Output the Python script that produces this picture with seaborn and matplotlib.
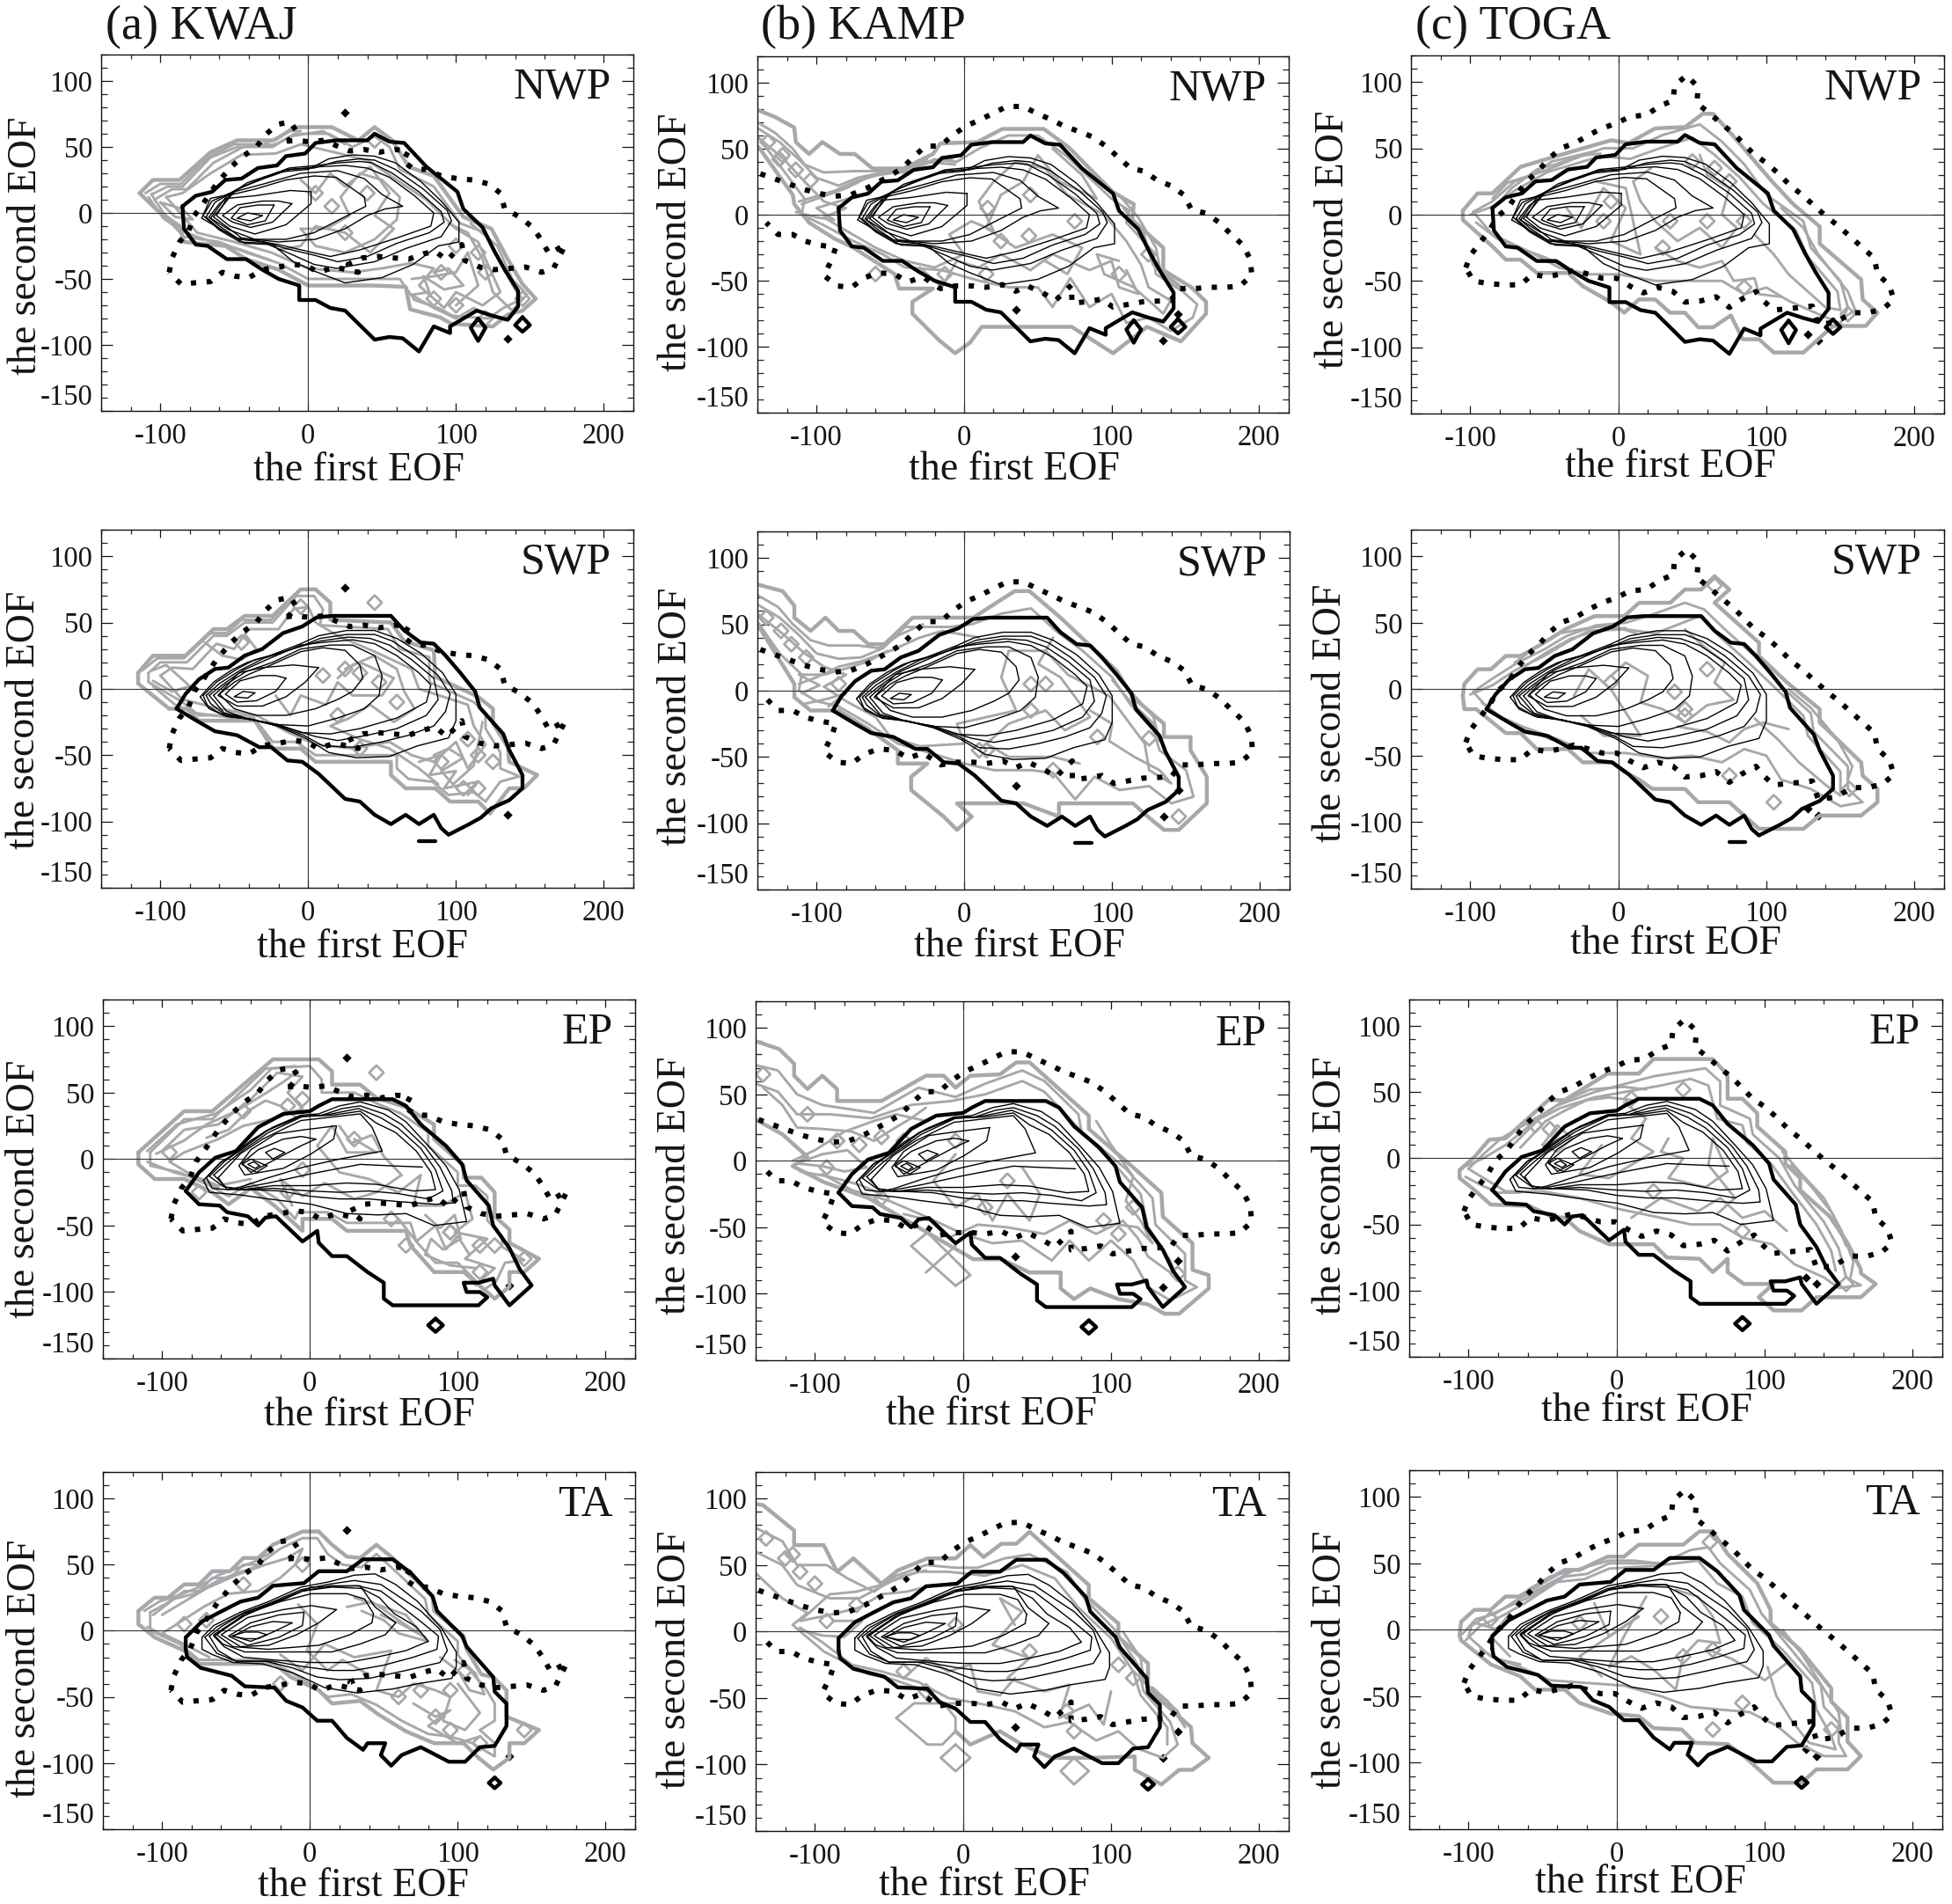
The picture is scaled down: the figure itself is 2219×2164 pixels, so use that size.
import matplotlib
matplotlib.use("Agg")
import matplotlib.pyplot as plt
from matplotlib.ticker import MultipleLocator
import seaborn as sns

# ---- text and ticks ----
STATIONS = ["KWAJ", "KAMP", "TOGA"]
TITLES = ["(a) KWAJ", "(b) KAMP", "(c) TOGA"]
REGIONS = ["NWP", "SWP", "EP", "TA"]
X_TICKS = [-100, 0, 100, 200]
Y_TICKS = [-150, -100, -50, 0, 50, 100]

# ---- dotted outline, one per station ----
DOTTED_KWAJ = [(-94,-45),(-92,-34),(-87,-22),(-81,-14),(-77,-2),(-71,7),(-62,22),(-52,35),(-44,43),(-35,50),(-29,59),
    (-21,67),(-12,69),(-8,62),(-13,55),(-18,54),(-8,55),(0,54),(11,55),(19,51),(28,47),(38,48),(48,46),(59,48),(68,47),
    (64,39),(72,33),(80,33),(90,28),(101,26),(111,25),(122,22),(130,15),(133,3),(143,-3),(152,-11),(158,-21),(163,-31),
    (174,-24),(166,-42),(158,-45),(147,-41),(137,-42),(126,-43),(116,-41),(106,-36),(104,-24),(94,-36),(86,-29),(78,-31),
    (68,-35),(57,-34),(47,-33),(37,-34),(27,-39),(34,-45),(18,-41),(7,-45),(-1,-40),(-10,-39),(-20,-41),(-31,-43),(-40,-49),
    (-49,-48),(-58,-45),(-66,-52),(-77,-53),(-86,-54),(-94,-45)]
DOTTED_KAMP = [(-138,31),(-128,27),(-118,23),(-108,19),(-98,16),(-88,14),(-77,15),(-66,20),(-51,29),(-42,35),(-34,44),
    (-26,52),(-16,52),(-8,60),(1,67),(11,72),(20,77),(29,82),(40,82),(49,77),(59,72),(68,67),(78,63),(87,59),(96,52),(104,44),
    (113,35),(122,33),(131,26),(140,22),(149,15),(154,4),(164,1),(173,-6),(181,-15),(189,-23),(194,-34),(195,-46),(187,-54),
    (178,-55),(167,-55),(156,-56),(146,-56),(140,-65),(121,-66),(111,-68),(101,-70),(93,-64),(83,-66),(73,-67),(73,-53),
    (62,-65),(53,-59),(43,-54),(35,-58),(26,-53),(15,-55),(6,-54),(-6,-54),(-16,-56),(-28,-47),(-38,-51),(-47,-45),(-58,-44),
    (-68,-48),(-76,-55),(-86,-54),(-95,-46),(-90,-35),(-87,-25),(-98,-23),(-108,-20),(-116,-15),(-126,-15),(-134,-6)]
DOTTED_TOGA = [(-103,-40),(-100,-31),(-94,-22),(-87,-12),(-82,-2),(-74,6),(-68,16),(-62,25),(-54,33),(-47,42),(-39,50),
    (-29,54),(-20,60),(-11,65),(-1,69),(8,74),(19,75),(28,82),(37,86),(38,97),(46,105),(54,96),(53,84),(62,76),(69,69),(78,61),
    (85,53),(92,45),(100,39),(108,31),(116,22),(124,15),(132,7),(140,-1),(149,-9),(157,-17),(165,-25),(173,-33),(175,-45),
    (183,-53),(186,-64),(179,-71),(169,-74),(158,-74),(147,-81),(135,-83),(131,-69),(123,-70),(105,-72),(97,-64),(93,-58),
    (83,-64),(75,-70),(66,-62),(56,-65),(45,-66),(37,-58),(27,-55),(17,-59),(8,-54),(-1,-48),(-11,-48),(-20,-45),(-30,-42),
    (-40,-45),(-48,-47),(-58,-45),(-66,-53),(-77,-53),(-88,-52),(-98,-50),(-103,-40)]
DOTS_KWAJ = [(25,76),(135,-95)]
DOTS_KAMP = [(35,-72),(135,-95),(145,-75)]
DOTS_TOGA = [(135,-95),(128,-90)]

# ---- thick black outline, one per region ----
THICK_NWP = [(-85,5),(-76,13),(-65,16),(-56,25),(-45,26),(-34,34),(-21,36),(-15,43),(-2,45),(5,53),(19,55),(40,55),(45,60),
    (55,54),(65,53),(80,35),(101,16),(105,3),(118,-11),(126,-29),(133,-43),(142,-59),(142,-71),(135,-81),(125,-78),(114,-74),
    (105,-80),(96,-86),(96,-91),(85,-86),(75,-105),(64,-95),(55,-94),(45,-96),(35,-85),(25,-74),(15,-72),(5,-66),(-6,-66),(-6,-55),
    (-20,-50),(-31,-43),(-42,-35),(-55,-35),(-68,-25),(-76,-24),(-84,-12),(-85,5)]
THICK_SWP = [(-89,-15),(-83,-4),(-74,7),(-63,15),(-54,16),(-43,25),(-31,30),(-17,42),(-4,47),(6,54),(17,55),(36,55),(56,55),
    (65,44),(76,35),(85,34),(93,25),(103,12),(113,-2),(116,-14),(132,-34),(136,-46),(145,-65),(145,-75),(136,-84),(124,-90),
    (117,-97),(109,-102),(95,-110),(90,-105),(85,-95),(75,-102),(66,-95),(56,-102),(45,-95),(35,-85),(25,-83),(7,-64),(-4,-55),
    (-14,-54),(-25,-44),(-33,-44),(-48,-35),(-63,-32),(-74,-25),(-89,-15)]
THICK_EP = [(-84,-24),(-75,-10),(-64,1),(-50,6),(-35,24),(-18,34),(0,36),(6,40),(15,45),(34,45),(56,45),(65,40),(75,26),(92,10),
    (103,-4),(106,-16),(121,-35),(124,-50),(135,-67),(142,-83),(150,-95),(135,-110),(125,-95),(124,-90),(114,-93),(104,-93),
    (106,-100),(115,-100),(120,-104),(114,-110),(56,-110),(50,-105),(50,-93),(39,-85),(25,-73),(15,-73),(6,-63),(5,-54),(-5,-62),
    (-23,-43),(-30,-44),(-35,-50),(-42,-43),(-56,-40),(-61,-35),(-75,-34),(-84,-24)]
THICK_TA = [(-84,-14),(-84,-5),(-73,7),(-61,14),(-47,22),(-35,25),(-25,34),(-4,36),(6,45),(25,45),(36,54),(56,54),(68,44),(83,26),
    (86,15),(103,-4),(106,-12),(124,-35),(125,-46),(133,-55),(133,-72),(125,-87),(115,-88),(105,-99),(94,-99),(75,-88),(62,-94),
    (55,-102),(48,-94),(51,-85),(39,-85),(36,-90),(25,-81),(15,-68),(5,-68),(-5,-58),(-16,-53),(-24,-43),(-44,-42),(-53,-34),
    (-74,-28),(-83,-20),(-84,-14)]
# little thick pieces outside the outline
EXTRA_NWP = [[(115,-80),(120,-87),(115,-97),(110,-87),(115,-80)], [(145,-79),(150,-85),(145,-90),(140,-85),(145,-79)]]
EXTRA_SWP = [[(75,-115),(86,-115)]]
EXTRA_EP = [[(85,-120),(90,-125),(85,-130),(80,-125),(85,-120)]]
EXTRA_TA = [[(125,-111),(129,-115),(125,-119),(121,-115),(125,-111)]]

# ---- thin black contours, one set per region ----
THIN_NWP = [
    [(-72,-4),(-66,11),(-53,14),(-41,23),(-20,31),(0,33),(14,41),(30,44),(45,43),(59,38),(76,24),(90,9),(102,-7),(102,-22),(88,-25),(71,-39),(50,-49),(25,-53),(4,-44),(-10,-37),(-24,-24),(-43,-23),(-58,-13),(-72,-4)],
    [(-71,-2),(-65,9),(-51,16),(-36,24),(-15,33),(4,34),(19,39),(35,41),(45,40),(59,33),(78,18),(94,2),(97,-6),(90,-18),(66,-27),(45,-37),(19,-42),(4,-39),(-12,-31),(-29,-23),(-46,-22),(-60,-13),(-71,-2)],
    [(-69,-3),(-63,8),(-48,18),(-33,25),(-13,34),(6,36),(21,38),(35,39),(43,38),(57,30),(75,16),(90,1),(92,-7),(82,-15),(60,-23),(40,-33),(20,-37),(4,-32),(-15,-27),(-30,-22),(-47,-20),(-60,-12),(-69,-3)],
    [(-67,-3),(-60,7),(-46,19),(-30,26),(-12,33),(8,35),(25,36),(40,34),(55,27),(72,13),(85,0),(83,-10),(60,-19),(35,-28),(15,-33),(3,-30),(-20,-24),(-35,-21),(-48,-19),(-60,-10),(-67,-3)],
    [(-66,-4),(-55,13),(-36,18),(-15,25),(4,28),(19,27),(38,12),(39,5),(23,-4),(4,-15),(-15,-20),(-36,-20),(-53,-13),(-66,-4)],
    [(-64,-3),(-50,16),(-30,22),(-5,30),(20,32),(38,26),(50,14),(64,5),(52,3),(40,-2),(25,-12),(5,-20),(-20,-22),(-45,-19),(-64,-3)],
    [(2,16),(2,7),(-15,-9),(-36,-16),(-53,-10),(-62,-2),(-55,11),(-36,13),(-12,17),(2,16)],
    [(-11,7),(-24,-7),(-39,-11),(-51,-7),(-58,-2),(-48,6),(-31,9),(-20,9),(-11,7)],
    [(-23,6),(-29,-6),(-41,-9),(-52,-4),(-46,4),(-34,6),(-23,6)],
    [(-31,-2),(-39,-6),(-48,-4),(-41,0),(-31,-2)],
]
THIN_SWP = [
    [(-73,-6),(-64,5),(-52,14),(-41,20),(-26,25),(-5,34),(7,40),(26,44),(45,44),(60,38),(76,27),(91,12),(100,-4),(100,-24),(95,-37),(74,-43),(55,-51),(33,-52),(14,-48),(-2,-37),(-21,-28),(-38,-23),(-55,-21),(-67,-15),(-73,-6)],
    [(-71,-5),(-62,5),(-48,15),(-36,22),(-22,26),(-5,32),(8,38),(26,41),(45,41),(57,36),(72,25),(88,10),(96,-4),(93,-17),(85,-28),(68,-35),(50,-40),(30,-44),(10,-43),(-3,-35),(-20,-28),(-40,-23),(-57,-20),(-68,-13),(-71,-5)],
    [(-69,-5),(-60,4),(-46,14),(-30,23),(-8,31),(8,36),(27,39),(42,38),(55,33),(70,22),(85,8),(88,-8),(80,-20),(60,-30),(40,-35),(20,-39),(5,-36),(-15,-29),(-38,-23),(-57,-19),(-66,-11),(-69,-5)],
    [(-67,-5),(-58,3),(-44,14),(-28,22),(-5,33),(10,35),(30,37),(45,34),(60,25),(75,12),(83,3),(80,-10),(60,-22),(35,-30),(15,-34),(-5,-33),(-20,-27),(-40,-23),(-57,-18),(-63,-10),(-67,-5)],
    [(-64,-5),(-56,3),(-42,13),(-24,20),(-5,30),(15,33),(30,33),(45,25),(50,10),(48,-5),(38,-15),(20,-22),(0,-28),(-20,-27),(-40,-23),(-55,-17),(-64,-5)],
    [(-60,-4),(-50,5),(-40,11),(-25,18),(-5,28),(10,31),(25,29),(35,18),(37,8),(30,-2),(20,-8),(5,-15),(-15,-20),(-35,-20),(-50,-15),(-60,-4)],
    [(7,16),(-2,5),(-15,-6),(-31,-13),(-48,-13),(-61,-5),(-47,12),(-31,16),(-10,18),(7,16)],
    [(-15,8),(-22,-2),(-35,-9),(-48,-10),(-56,-4),(-46,6),(-33,10),(-22,10),(-15,8)],
    [(-36,-3),(-41,-7),(-50,-6),(-44,-2),(-36,-3)],
]
THIN_EP = [
    [(-72,-16),(-61,-3),(-51,4),(-40,14),(-25,24),(-6,33),(6,34),(20,40),(34,43),(53,37),(65,28),(80,10),(92,-5),(101,-23),(106,-47),(84,-50),(65,-41),(46,-42),(25,-41),(1,-34),(-28,-30),(-47,-27),(-68,-25),(-72,-16)],
    [(-70,-14),(-60,-2),(-49,5),(-30,21),(-8,32),(8,33),(22,38),(34,40),(50,34),(62,26),(78,9),(88,-6),(96,-24),(97,-33),(85,-34),(60,-32),(40,-30),(20,-30),(0,-28),(-20,-24),(-40,-23),(-56,-23),(-66,-22),(-70,-14)],
    [(-68,-13),(-58,-2),(-48,6),(-28,22),(-6,32),(10,33),(33,38),(48,31),(60,23),(75,8),(85,-8),(90,-24),(80,-30),(60,-26),(40,-24),(20,-25),(0,-24),(-25,-22),(-45,-23),(-58,-21),(-68,-13)],
    [(-65,-12),(-56,-3),(-46,6),(-28,20),(-5,32),(15,33),(34,36),(45,27),(58,20),(72,6),(82,-10),(85,-23),(70,-24),(45,-19),(25,-18),(0,-20),(-25,-20),(-45,-23),(-57,-21),(-65,-12)],
    [(-62,-14),(-47,4),(-32,15),(-6,29),(34,34),(42,24),(49,6),(20,0),(-4,-6),(-28,-14),(-47,-21),(-56,-23),(-62,-14)],
    [(76,-6),(53,-5),(34,-4),(1,-11),(-28,-18),(-47,-22)],
    [(18,25),(16,15),(1,4),(-18,-7),(-44,-12),(-48,-5),(-40,7),(-23,19),(-4,22),(18,25)],
    [(4,15),(-6,10),(-28,-3),(-40,-10),(-46,-3),(-35,7),(-18,15),(-6,17),(4,15)],
    [(-17,5),(-25,0),(-30,5),(-24,8),(-17,5)],
    [(-29,-5),(-36,-10),(-46,-4),(-40,0),(-29,-5)],
    [(-34,-5),(-37,-7),(-42,-4),(-38,-2),(-34,-5)],
]
THIN_TA = [
    [(-73,-5),(-65,4),(-47,14),(-28,22),(-6,33),(13,37),(30,42),(44,43),(58,35),(73,22),(89,2),(99,-16),(99,-27),(96,-36),(73,-40),(56,-44),(32,-47),(10,-43),(-11,-32),(-32,-25),(-52,-24),(-66,-18),(-73,-14),(-73,-5)],
    [(-71,-5),(-63,3),(-46,13),(-27,21),(-6,31),(12,35),(30,38),(48,35),(60,26),(75,15),(88,1),(93,-15),(88,-24),(65,-30),(40,-36),(20,-37),(5,-35),(-12,-28),(-30,-23),(-50,-23),(-63,-17),(-71,-5)],
    [(-68,-4),(-60,3),(-44,14),(-25,21),(-5,30),(14,34),(32,34),(48,30),(60,20),(75,7),(87,-4),(86,-14),(70,-20),(50,-26),(30,-30),(15,-30),(-5,-27),(-25,-23),(-50,-23),(-62,-15),(-68,-4)],
    [(-65,-4),(-57,2),(-42,13),(-25,20),(-5,30),(15,33),(35,32),(47,25),(57,13),(72,3),(80,-8),(65,-15),(45,-20),(25,-24),(0,-24),(-25,-22),(-45,-20),(-58,-12),(-65,-4)],
    [(58,6),(51,-3),(34,-10),(15,-16),(-18,-16),(-44,-16),(-59,-10),(-65,-3),(-47,10),(-23,22),(1,33),(34,34),(44,18),(58,6)],
    [(43,13),(42,6),(27,-3),(6,-11),(-28,-14),(-52,-12),(-63,-3),(-44,13),(-20,22),(1,28),(25,28),(37,24),(43,13)],
    [(18,16),(6,6),(-9,-3),(-28,-11),(-47,-12),(-60,-3),(-42,10),(-18,16),(1,19),(18,16)],
    [(-4,14),(-5,4),(-21,-5),(-42,-11),(-55,-4),(-40,6),(-21,12),(-4,14)],
    [(-12,6),(-25,-1),(-40,-8),(-52,-4),(-40,3),(-25,7),(-12,6)],
    [(-29,-3),(-35,-6),(-44,-6),(-53,-4),(-44,-1),(-35,-1),(-29,-3)],
]

# ---- gray contours, one set per panel (outer ring first) ----
GRAY_KWAJ_NWP = [
    [(-114,15),(-105,25),(-87,25),(-66,46),(-48,55),(-23,55),(-9,65),(16,65),(34,55),(45,65),(57,55),(68,35),(85,28),(105,-3),(124,-12),(135,-35),(145,-54),(154,-65),(145,-74),(135,-77),(125,-86),(97,-84),(89,-79),(69,-73),(66,-56),(44,-55),(0,-55),(-20,-43),(-42,-35),(-56,-25),(-84,-22),(-87,-10),(-102,2),(-114,15)],
    [(-106,14),(-95,20),(-85,20),(-66,42),(-48,50),(-24,50),(-9,60),(14,60),(30,50),(45,58),(55,50),(62,33),(85,20),(103,-8),(120,-15),(130,-38),(140,-58),(145,-65),(132,-72),(122,-80),(98,-78),(88,-72),(72,-66),(62,-50),(42,-50),(0,-50),(-20,-38),(-42,-30),(-60,-22),(-84,-18),(-95,-5),(-106,14)],
    [(-96,12),(-85,15),(-66,30),(-45,44),(-22,45),(-5,52),(10,48),(40,40),(60,25),(80,10),(100,-12),(115,-22),(122,-40),(130,-60),(118,-70),(100,-60),(92,-72),(75,-55),(85,-42),(70,-38),(50,-42),(30,-45),(0,-42),(-25,-30),(-50,-22),(-75,-15),(-96,12)],
    [(-5,-12),(5,-25),(25,-30),(45,-20),(60,-5),(62,12),(50,25),(35,30),(22,12),(28,-2),(12,-12),(-5,-12)],
    [(-100,8),(-85,3),(-78,-5),(-90,-3),(-100,8)],
    [(70,-50),(85,-48),(100,-45),(108,-30),(115,-55),(100,-70)],
    [(-110,15),(-100,22),(-86,22),(-68,42),(-50,52),(-30,52),(-12,62),(-5,62)],
    [(-104,10),(-92,18),(-82,18),(-64,38),(-44,50),(-22,52),(-12,58),(10,62),(25,52)],
    [(-108,12),(-98,-4),(-85,-14),(-65,-22),(-45,-28),(-25,-36)],
    [(110,-8),(128,-25),(138,-50),(148,-62),(138,-74),(125,-60),(118,-35),(108,-15),(95,-8)],
    [(-5,25),(5,15),(15,30),(25,20),(42,35),(55,15),(45,-2),(58,-12),(42,-30),(25,-15),(5,-10),(-5,-25),(-20,-28)],
    [(85,-45),(95,-42),(105,-55),(92,-58),(78,-48),(82,-60),(70,-62),(85,-72),(100,-80),(112,-72),(125,-80)],
]
DIA_KWAJ_NWP = [(16,5),(5,15),(45,55),(90,-45),(85,-65),(100,-70),(120,-45),(115,-30),(100,-25),(120,-80),(145,-65),(40,15),(25,-15)]
GRAY_KAMP_NWP = [
    [(-139,79),(-128,74),(-115,66),(-114,55),(-105,46),(-96,55),(-84,46),(-74,46),(-62,35),(-41,35),(-21,46),(-16,54),(9,55),(26,65),(54,65),(71,51),(101,17),(115,8),(114,-4),(135,-25),(135,-42),(154,-55),(164,-66),(164,-75),(147,-96),(124,-85),(101,-105),(73,-85),(57,-85),(32,-85),(12,-85),(4,-97),(-6,-105),(-17,-95),(-35,-75),(-35,-66),(-21,-56),(-44,-56),(-47,-45),(-75,-25),(-88,-18),(-105,-6),(-115,8),(-116,15),(-139,51)],
    [(-139,65),(-125,55),(-112,42),(-100,28),(-85,22),(-72,28),(-55,32),(-40,32),(-20,42),(-5,40),(10,50),(30,60),(50,60),(70,44),(85,28),(100,12),(112,3),(110,-6),(128,-28),(130,-45),(148,-58),(158,-68),(155,-78),(140,-88),(125,-78),(110,-82),(100,-60),(85,-70),(72,-48),(60,-70),(50,-55),(30,-55),(10,-50),(-15,-42),(-40,-40),(-55,-30),(-75,-20),(-95,-8),(-110,0),(-108,12),(-120,30),(-139,58)],
    [(-139,58),(-122,42),(-108,25),(-95,10),(-80,5),(-95,-2),(-80,-12),(-60,-25),(-40,-35),(-20,-40),(0,-30),(-10,-15),(5,-5),(20,-12),(10,10),(20,25),(35,40),(55,35),(70,15),(95,0),(110,-20),(120,-38),(125,-55),(140,-65),(135,-75),(115,-55),(95,-45),(90,-30),(105,-35)],
    [(-110,8),(-95,14),(-80,20),(-62,30),(-45,33),(-25,40),(-6,38)],
    [(-140,70),(-128,62),(-116,50),(-108,38),(-95,32),(-75,33),(-60,33),(-40,34),(-25,42)],
    [(-112,10),(-100,14),(-88,18),(-72,26),(-58,30),(-40,33),(-22,40),(-8,42)],
    [(-114,2),(-100,-2),(-88,-4),(-100,5),(-85,10),(-70,15)],
    [(105,15),(118,-2),(130,-25),(133,-42),(150,-57),(140,-50),(128,-38),(122,-15),(108,5)],
    [(60,50),(80,30),(90,12),(65,25),(50,45),(40,25),(25,15),(15,-10),(35,-25),(60,-15),(80,-25),(70,-45),(55,-35)],
    [(-30,-40),(-15,-55),(-5,-35),(10,-40),(25,-30),(45,-42),(60,-30),(85,-42),(100,-35),(105,-55),(118,-60),(110,-42)],
]
DIA_KAMP_NWP = [(-133,55),(-123,45),(-114,34),(-104,26),(16,5),(44,-16),(15,-45),(-13,-45),(105,-45),(125,-30),(-60,-45),(-125,42),(45,15),(25,-20),(75,-5)]
GRAY_TOGA_NWP = [
    [(-105,3),(-95,16),(-85,16),(-66,36),(-36,46),(-5,56),(7,54),(25,65),(45,66),(57,76),(64,76),(77,60),(103,26),(118,8),(136,-9),(136,-22),(164,-49),(165,-64),(175,-74),(167,-84),(145,-84),(125,-104),(105,-104),(95,-94),(84,-94),(76,-76),(64,-85),(54,-85),(45,-74),(35,-74),(25,-64),(14,-64),(4,-74),(-5,-66),(-24,-54),(-34,-44),(-55,-44),(-66,-34),(-76,-34),(-85,-24),(-105,-4),(-105,3)],
    [(-98,2),(-85,10),(-70,25),(-45,35),(-30,42),(-10,50),(10,50),(30,60),(55,68),(70,55),(85,38),(100,15),(125,-5),(130,-25),(150,-50),(155,-70),(150,-82),(135,-75),(115,-65),(100,-55),(85,-60),(70,-50),(50,-50),(25,-50),(0,-45),(-20,-45),(-40,-40),(-60,-28),(-85,-15),(-98,2)],
    [(-100,0),(-85,6),(-70,18),(-48,32),(-30,38),(-12,44),(8,42),(28,50),(50,58),(65,45),(82,28),(98,8),(120,-12),(128,-32),(148,-58),(150,-72),(140,-70),(128,-58),(115,-45),(105,-30),(92,-15)],
    [(55,45),(60,30),(75,20),(70,0),(80,-10),(70,-25),(55,-10),(40,-20),(25,-5),(15,10),(10,25),(22,35)],
    [(25,-25),(40,-35),(55,-40),(70,-35),(78,-50),(92,-48),(95,-60),(110,-62)],
    [(-85,12),(-75,24),(-58,30),(-45,40),(-30,44),(-15,48)],
    [(-80,10),(-72,20),(-55,34),(-42,38),(-28,44),(-12,46)],
    [(-96,-6),(-82,-18),(-65,-26),(-50,-32),(-35,-40)],
    [(110,5),(125,-10),(135,-30),(155,-58),(160,-72),(152,-78)],
    [(-35,5),(-25,-10),(-10,20),(5,5),(-5,-20),(15,-30),(5,20),(-15,25)],
]
DIA_TOGA_NWP = [(50,40),(75,25),(35,-5),(60,-5),(85,-5),(85,-55),(155,-75),(-5,10),(30,-25),(65,35),(-10,-5)]

GRAY_KWAJ_SWP = [
    [(-115,12),(-105,25),(-83,25),(-64,45),(-55,45),(-43,55),(-24,55),(-5,75),(5,75),(15,65),(15,52),(56,50),(65,36),(85,29),(86,9),(115,-6),(125,-15),(125,-26),(135,-44),(136,-55),(155,-65),(146,-75),(136,-75),(123,-94),(115,-85),(96,-85),(86,-75),(66,-75),(56,-65),(56,-55),(5,-55),(-5,-45),(-24,-45),(-36,-24),(-74,-24),(-82,-15),(-94,-15),(-115,4),(-115,12)],
    [(-108,12),(-100,20),(-82,20),(-64,40),(-55,40),(-43,50),(-24,50),(-8,70),(4,70),(10,60),(8,48),(54,45),(62,30),(82,24),(82,5),(112,-10),(120,-18),(120,-30),(130,-48),(130,-60),(143,-66),(130,-70),(120,-85),(112,-78),(95,-80),(84,-70),(68,-68),(60,-60),(60,-50),(5,-50),(-8,-40),(-24,-40),(-38,-20),(-74,-20),(-85,-10),(-108,5),(-108,12)],
    [(-100,10),(-92,16),(-78,15),(-62,34),(-50,30),(-40,45),(-20,45),(-10,60),(0,62),(5,50),(20,40),(45,28),(70,15),(75,0),(108,-12),(112,-28),(120,-42),(108,-60),(100,-40),(85,-55),(70,-50),(55,-40),(30,-45),(5,-42),(-15,-32),(-35,-20),(-60,-15),(-85,-8),(-100,10)],
    [(25,15),(35,20),(45,15),(58,8),(50,-5),(30,-5),(20,5),(12,-12),(-5,-5),(-12,-20),(-22,-5)],
    [(75,-55),(90,-50),(82,-65),(100,-62),(92,-75),(115,-70),(108,-80)],
    [(-112,14),(-102,23),(-84,23),(-66,42),(-55,42),(-45,52),(-25,52),(-12,66)],
    [(-105,2),(-90,-12),(-78,-18),(-50,-22),(-38,-22)],
    [(-105,14),(-96,18),(-88,10),(-80,2),(-92,-2),(-105,6)],
    [(-70,35),(-58,25),(-45,22),(-35,30),(-42,40)],
    [(20,8),(30,18),(45,25),(60,15),(65,-2),(72,-15),(58,-25),(42,-12),(28,-22),(15,-28),(35,-38),(55,-45),(75,-60),(88,-72)],
    [(85,-50),(95,-45),(105,-52),(90,-62),(98,-72),(112,-58),(118,-25)],
]
DIA_KWAJ_SWP = [(45,65),(-45,35),(25,15),(10,10),(115,-50),(125,-55),(115,-75),(105,-75),(35,-45),(90,-55),(20,-20),(60,-10),(35,12),(48,5),(108,-38),(-5,62)]
GRAY_KAMP_SWP = [
    [(-140,80),(-123,75),(-115,64),(-115,55),(-104,45),(-94,55),(-85,45),(-75,45),(-65,35),(-54,35),(-35,55),(6,55),(34,75),(44,75),(65,55),(85,34),(103,15),(114,-5),(135,-25),(135,-35),(153,-35),(153,-45),(164,-65),(164,-85),(145,-105),(135,-105),(124,-95),(114,-85),(64,-85),(64,-95),(40,-85),(-5,-85),(5,-95),(-5,-105),(-14,-95),(-36,-75),(-36,-65),(-25,-55),(-45,-55),(-45,-45),(-65,-29),(-85,-15),(-104,-15),(-115,-5),(-115,5),(-140,50)],
    [(-140,65),(-125,55),(-112,42),(-100,28),(-85,24),(-70,25),(-55,32),(-40,48),(-10,48),(5,50),(25,58),(45,62),(62,45),(80,30),(100,10),(112,-10),(128,-30),(132,-45),(150,-60),(155,-80),(140,-85),(125,-72),(105,-75),(88,-65),(75,-82),(60,-62),(45,-60),(20,-60),(0,-55),(-20,-48),(-45,-40),(-65,-25),(-85,-12),(-100,-8),(-112,0),(-110,12),(-125,28),(-140,52)],
    [(-140,58),(-122,42),(-108,28),(-95,18),(-80,12),(-95,3),(-80,-8),(-60,-20),(-50,-35),(-30,-42),(0,-40),(-5,-25),(15,-20),(35,-15),(25,10),(30,30),(55,30),(70,12),(98,-4),(112,-25),(122,-40),(125,-60),(140,-70),(132,-60),(115,-50),(98,-38),(100,-25),(85,-15)],
    [(-112,5),(-100,10),(-85,18),(-70,22),(-50,30),(-30,40),(-15,45),(10,40)],
    [(-140,72),(-126,63),(-116,50),(-104,38),(-92,34),(-72,34),(-58,32),(-44,42),(-28,50)],
    [(-110,-2),(-98,4),(-112,12),(-95,12),(-82,16),(-65,22),(-52,30)],
    [(-108,-10),(-92,-6),(-80,-2),(-92,-12)],
    [(100,18),(112,0),(128,-20),(132,-38),(128,-25),(112,-8),(100,8)],
    [(60,40),(50,20),(65,10),(75,-5),(85,-20),(68,-30),(55,-15),(30,-25),(15,-40),(30,-50),(60,-50),(78,-55)],
]
DIA_KAMP_SWP = [(-134,55),(-124,45),(-117,35),(-107,25),(-85,5),(45,5),(55,5),(45,-15),(125,-36),(15,-45),(10,-45),(60,-60),(145,-95),(90,-35)]
GRAY_TOGA_SWP = [
    [(-105,-5),(-104,4),(-95,15),(-86,15),(-76,25),(-66,25),(-50,35),(-36,45),(-16,55),(4,55),(14,65),(35,65),(45,75),(56,75),(65,85),(75,75),(65,65),(95,35),(95,25),(114,5),(136,-15),(136,-25),(164,-55),(165,-65),(175,-75),(175,-85),(164,-95),(136,-95),(125,-105),(95,-105),(85,-95),(75,-85),(54,-85),(45,-75),(23,-75),(14,-68),(4,-62),(-5,-55),(-24,-55),(-34,-45),(-55,-45),(-66,-33),(-76,-33),(-96,-15),(-104,-15),(-105,-5)],
    [(-98,-2),(-85,8),(-68,20),(-50,30),(-35,40),(-15,48),(5,50),(20,55),(45,65),(58,60),(72,45),(92,25),(110,2),(130,-18),(132,-32),(155,-58),(155,-75),(165,-85),(150,-88),(130,-75),(110,-68),(100,-50),(85,-45),(70,-55),(50,-50),(30,-52),(5,-48),(-20,-48),(-40,-38),(-65,-28),(-85,-18),(-98,-2)],
    [(-100,-4),(-85,3),(-70,14),(-50,25),(-35,35),(-20,44),(5,45),(25,42),(55,55),(68,40),(88,20),(105,2),(125,-20),(128,-35),(150,-62),(150,-80),(140,-72),(122,-55),(108,-38),(92,-22)],
    [(45,45),(60,30),(72,20),(65,5),(78,-8),(60,-12),(45,-25),(30,-15),(15,-10),(20,10),(5,20),(-5,10)],
    [(40,-28),(60,-32),(75,-40),(85,-30),(98,-25),(115,-30)],
    [(-70,20),(-55,32),(-40,42),(-20,46),(-5,48),(12,42)],
    [(-62,18),(-48,28),(-32,38),(-15,44),(5,46)],
    [(-92,-10),(-78,-22),(-62,-30),(-45,-38)],
    [(115,0),(130,-14),(148,-38),(158,-58),(155,-68)],
    [(-30,-5),(-20,15),(-5,0),(15,-35),(-10,-35),(-25,-20)],
]
DIA_TOGA_SWP = [(65,78),(45,-15),(38,-2),(75,-65),(105,-85),(156,-75),(-5,5),(60,15),(45,-20)]

GRAY_KWAJ_EP = [
    [(-116,5),(-85,36),(-66,36),(-25,75),(6,75),(15,66),(15,56),(34,56),(45,46),(65,39),(84,26),(84,15),(104,-5),(104,-14),(116,-14),(125,-25),(125,-43),(135,-53),(135,-63),(155,-75),(145,-85),(135,-85),(135,-96),(125,-105),(104,-85),(84,-85),(68,-65),(65,-54),(44,-54),(25,-54),(15,-45),(-5,-45),(-5,-54),(-24,-35),(-40,-22),(-55,-34),(-66,-25),(-85,-15),(-105,-15),(-116,-4),(-116,5)],
    [(-108,5),(-85,30),(-66,30),(-30,68),(0,70),(8,60),(8,50),(30,50),(45,42),(62,34),(80,20),(80,10),(100,-10),(100,-20),(112,-20),(120,-28),(120,-46),(130,-58),(130,-66),(145,-76),(132,-78),(126,-92),(118,-98),(100,-78),(85,-78),(72,-62),(68,-48),(45,-48),(25,-48),(12,-40),(-8,-40),(-10,-45),(-22,-30),(-40,-18),(-55,-28),(-68,-20),(-88,-10),(-108,-5),(-108,5)],
    [(-100,6),(-85,22),(-62,26),(-40,45),(-22,65),(-5,62),(-15,50),(-5,38),(-25,30),(-45,25),(-62,15),(-85,5),(-95,-2),(-80,-12),(-62,-20),(-40,-15)],
    [(30,15),(45,5),(25,5),(15,25),(5,10),(20,-10),(40,-15),(60,-25),(75,-12),(70,-35),(90,-35),(105,-25),(110,-45),(98,-55),(120,-60),(105,-75),(125,-82),(112,-95)],
    [(60,-45),(72,-62),(85,-50),(92,-68),(100,-58),(108,-72)],
    [(-110,6),(-90,26),(-78,30),(-64,34),(-40,52),(-26,68),(-10,70)],
    [(-104,4),(-85,14),(-70,26),(-50,36),(-32,48),(-18,58),(-8,66)],
    [(-110,-2),(-92,-10),(-78,-14),(-62,-22)],
    [(-70,16),(-55,22),(-42,36),(-30,44),(-20,40),(-10,32)],
    [(20,25),(28,12),(42,18),(50,2),(62,-12),(45,-25),(30,-30),(10,-18),(-5,-28),(-20,-15),(-12,-35)],
    [(78,-42),(88,-52),(98,-42),(102,-60),(90,-68),(82,-60),(78,-72),(95,-80),(112,-82)],
]
DIA_KWAJ_EP = [(45,65),(-45,36),(-95,5),(-75,-25),(-5,45),(65,-65),(95,-55),(125,-65),(145,-75),(115,-65),(115,-85),(55,-45),(-15,-25),(95,-55),(30,15),(-5,-8),(-15,40)]
GRAY_KAMP_EP = [
    [(-140,90),(-124,84),(-114,73),(-114,64),(-105,54),(-95,64),(-85,54),(-85,45),(-55,45),(-25,64),(-13,64),(-5,55),(5,64),(25,65),(36,74),(45,74),(85,34),(85,24),(114,-4),(134,-24),(135,-42),(155,-62),(155,-82),(166,-86),(166,-96),(146,-115),(136,-115),(125,-108),(105,-104),(86,-96),(75,-104),(66,-96),(66,-84),(45,-84),(26,-74),(7,-74),(-24,-54),(-64,-28),(-94,-16),(-115,-4),(-105,3),(-122,20),(-140,31)],
    [(-5,-94),(5,-86),(-24,-54),(-35,-64),(-5,-94)],
    [(-15,-74),(-5,-64)],
    [(-25,-84),(-15,-74)],
    [(-140,72),(-125,68),(-112,50),(-95,42),(-60,36),(-30,55),(-5,48),(15,58),(40,68),(55,60),(78,35),(80,22),(110,-6),(128,-28),(130,-48),(150,-70),(150,-90),(158,-95),(140,-105),(125,-95),(115,-75),(100,-60),(85,-75),(72,-60),(60,-75),(40,-60),(20,-62),(0,-55),(-25,-42),(-50,-30),(-75,-22),(-95,-10)],
    [(-140,58),(-125,52),(-112,35),(-90,35),(-62,32),(-35,42),(-8,45),(15,50),(40,60),(55,52),(75,28),(105,-6),(120,-25),(125,-50),(140,-75),(145,-90)],
    [(-115,0),(-100,8),(-80,22),(-60,30),(-45,35),(-25,30)],
    [(40,-5),(52,-25),(45,-45),(30,-25),(20,-45),(10,-25),(-5,-35),(-20,-15),(-5,5)],
    [(-135,55),(-122,42),(-112,25),(-95,24),(-75,22),(-60,15),(-50,22),(-35,32),(-25,40)],
    [(-112,-2),(-95,-4),(-80,-8),(-65,-5),(-78,8),(-95,5),(-112,-2)],
    [(-110,-8),(-90,-12),(-70,-18),(-55,-25)],
    [(-40,-40),(-22,-45),(-10,-58),(10,-48),(30,-50),(55,-55),(72,-45),(90,-55),(108,-45),(118,-58),(125,-72),(140,-84)],
    [(90,30),(100,12),(115,-12),(110,-30),(120,-45),(128,-62),(118,-50),(105,-48)],
]
DIA_KAMP_EP = [(-135,65),(-105,35),(-55,18),(-85,15),(-92,-5),(-85,15),(-40,15),(-5,15),(15,-35),(95,-45),(115,-35),(105,-55),(145,-85),(-70,12),(-55,-28),(30,-15)]
GRAY_TOGA_EP = [
    [(-106,-9),(-96,1),(-86,14),(-75,15),(-46,44),(-35,44),(-6,64),(15,64),(25,75),(65,75),(75,63),(75,45),(85,45),(95,34),(95,24),(114,5),(114,-4),(124,-15),(124,-24),(144,-44),(156,-64),(165,-84),(165,-87),(175,-95),(165,-105),(135,-105),(125,-115),(106,-115),(96,-105),(106,-95),(86,-95),(75,-86),(75,-76),(65,-86),(56,-76),(34,-75),(25,-65),(-5,-65),(-25,-55),(-35,-45),(-44,-44),(-59,-36),(-85,-35),(-96,-24),(-106,-15),(-106,-9)],
    [(-100,-8),(-90,3),(-78,15),(-55,30),(-40,40),(-15,50),(5,56),(25,62),(60,68),(70,58),(70,40),(90,30),(92,18),(110,0),(120,-20),(140,-48),(150,-68),(155,-90),(165,-96),(150,-98),(140,-90),(120,-80),(105,-65),(85,-60),(70,-50),(50,-50),(30,-45),(0,-38),(-25,-30),(-50,-25),(-75,-25),(-100,-8)],
    [(-102,-6),(-90,0),(-75,10),(-55,28),(-38,38),(-15,46),(5,50),(30,55),(50,60),(62,55),(68,30),(85,25),(88,12),(105,-5),(118,-25),(135,-50),(145,-70),(148,-85)],
    [(35,15),(30,5),(45,0),(35,-15),(60,-22),(75,-10),(65,15),(62,-5),(80,-30),(68,-42)],
    [(5,42),(20,30),(10,15),(25,5),(-5,-15),(-25,-12),(-10,10)],
    [(-70,10),(-52,30),(-38,42),(-18,52),(5,54),(20,52)],
    [(-65,8),(-48,28),(-35,36),(-20,44),(-5,46),(10,44)],
    [(-102,-14),(-92,-20),(-80,-26),(-65,-26)],
    [(112,5),(125,-12),(140,-30),(152,-55),(160,-78),(158,-90)],
    [(118,-5),(132,-22),(146,-42),(155,-66)],
    [(-50,10),(-40,25),(-30,15),(-40,5),(-50,10)],
    [(10,-45),(30,-30),(55,-40),(70,-30),(85,-45),(100,-40),(115,-55)],
]
DIA_TOGA_EP = [(-55,25),(45,52),(25,-25),(85,-55),(155,-95),(-45,22),(10,45)]

GRAY_KWAJ_TA = [
    [(-116,15),(-105,25),(-96,25),(-85,35),(-75,35),(-66,45),(-54,45),(-45,55),(-35,55),(-25,65),(-5,75),(6,75),(15,65),(25,56),(34,55),(45,65),(56,55),(83,26),(84,15),(104,-4),(106,-14),(116,-33),(124,-35),(133,-45),(133,-65),(155,-75),(145,-85),(135,-85),(135,-96),(124,-105),(114,-96),(104,-85),(84,-85),(65,-76),(46,-63),(34,-53),(15,-55),(6,-45),(-13,-35),(-24,-25),(-75,-25),(-85,-15),(-105,-5),(-116,5),(-116,15)],
    [(-108,14),(-98,20),(-85,30),(-75,30),(-66,40),(-54,40),(-45,50),(-35,50),(-20,62),(-5,70),(5,70),(12,58),(22,50),(35,48),(45,58),(55,48),(78,24),(80,12),(100,-8),(100,-18),(112,-35),(118,-42),(125,-55),(125,-68),(115,-75),(125,-85),(125,-95),(110,-85),(95,-80),(80,-78),(62,-68),(45,-56),(28,-48),(12,-50),(0,-40),(-15,-30),(-30,-22),(-75,-22),(-88,-10),(-108,0),(-108,14)],
    [(-100,12),(-85,22),(-70,32),(-50,42),(-30,50),(-15,55),(-5,62),(-10,50),(-20,40),(-35,30),(-55,28),(-72,18),(-90,5),(-100,-2),(-85,-10)],
    [(30,25),(50,18),(65,12),(75,-2),(80,-8),(60,-2),(50,8),(35,15)],
    [(-20,-18),(-5,-30),(10,-10),(30,-20),(55,-15),(45,-45),(60,-50),(70,-40),(85,-45),(95,-50),(90,-68),(105,-75),(115,-62),(100,-40)],
    [(70,-55),(85,-65),(95,-60),(80,-72),(100,-85),(115,-80)],
    [(-112,15),(-102,22),(-88,27),(-75,33),(-62,42),(-50,47),(-38,52),(-25,60)],
    [(-106,12),(-92,24),(-78,28),(-62,38),(-48,44),(-32,50)],
    [(-110,3),(-95,-6),(-82,-12),(-68,-20)],
    [(25,18),(42,22),(55,12),(68,2),(78,-5),(62,5),(48,12)],
    [(-8,20),(5,5),(-2,-15),(12,-30),(22,-22),(38,-32)],
    [(88,-20),(100,-30),(108,-45),(118,-48),(112,-32),(98,-22)],
]
DIA_KWAJ_TA = [(-45,35),(145,-75),(85,-65),(95,-75),(95,-45),(115,-85),(-85,5),(-5,50),(-70,8),(75,-45),(105,-30),(60,-50),(-20,-40)]
GRAY_KAMP_TA = [
    [(-140,96),(-135,95),(-114,76),(-114,65),(-94,65),(-85,45),(-74,55),(-55,36),(-44,46),(-24,55),(-5,55),(5,65),(14,56),(26,66),(36,66),(45,75),(85,35),(85,25),(105,6),(105,-4),(125,-24),(125,-42),(135,-53),(154,-72),(155,-84),(166,-95),(155,-104),(146,-104),(134,-115),(116,-104),(116,-94),(86,-95),(60,-95),(40,-85),(25,-75),(5,-85),(-5,-75)],
    [(-45,-65),(-33,-54),(-13,-54),(-5,-65),(-5,-75),(-14,-85),(-24,-85),(-45,-65)],
    [(-5,-54),(-13,-54),(-24,-45),(-50,-35),(-64,-32),(-94,-15),(-115,5),(-105,14),(-122,25),(-140,44)],
    [(-5,-85),(5,-95),(-5,-105),(-15,-95),(-5,-85)],
    [(75,-95),(85,-105),(75,-115),(66,-105),(75,-95)],
    [(-140,78),(-122,68),(-112,50),(-92,50),(-78,40),(-60,30),(-45,42),(-25,50),(-5,48),(10,48),(28,55),(45,58),(70,45),(82,25),(102,2),(118,-25),(122,-45),(140,-68),(145,-85),(135,-95),(118,-88),(105,-75),(90,-82),(72,-68),(55,-72),(35,-60),(15,-55),(-10,-50),(-30,-38),(-55,-30),(-75,-25),(-95,-8),(-110,3)],
    [(-140,60),(-122,50),(-112,35),(-90,25),(-70,25),(-48,38),(-30,45),(-10,45),(15,42),(40,50),(62,40),(78,18),(100,-5),(115,-30),(120,-48),(138,-72),(138,-85)],
    [(-110,8),(-92,12),(-70,18),(-55,28),(-38,30),(-20,35)],
    [(35,5),(25,25),(40,15),(20,-10),(45,-20),(30,-35),(55,-45),(72,-40),(65,-65),(85,-55),(95,-70),(100,-45)],
    [(-108,10),(-90,28),(-72,30),(-52,36),(-40,42),(-25,46)],
    [(-112,2),(-95,-3),(-80,-4),(-68,8),(-88,8)],
    [(108,0),(120,-20),(122,-38),(138,-52),(150,-72),(145,-60),(128,-42)],
    [(-40,-35),(-25,-20),(-10,-30),(5,-25),(10,-45),(25,-48),(35,-35)],
]
DIA_KAMP_TA = [(-133,70),(-115,58),(-110,45),(-100,36),(-92,8),(-72,20),(-5,5),(45,-15),(70,-60),(105,-25),(115,-35),(-40,-30),(-25,-45),(-120,55),(75,-75)]
GRAY_TOGA_TA = [
    [(-106,-4),(-105,6),(-96,15),(-85,15),(-75,25),(-66,25),(-35,45),(-25,45),(-6,55),(5,55),(15,64),(45,64),(56,74),(65,74),(75,57),(95,35),(104,15),(104,5),(124,-15),(145,-44),(145,-54),(156,-66),(156,-84),(165,-95),(156,-105),(135,-105),(125,-115),(106,-115),(86,-95),(75,-86),(53,-85),(44,-75),(25,-74),(15,-65),(-4,-63),(-25,-55),(-35,-45),(-55,-45),(-65,-35),(-85,-26),(-105,-8),(-106,-4)],
    [(-100,-5),(-98,3),(-88,10),(-72,18),(-60,24),(-35,40),(-20,42),(-5,50),(30,50),(50,60),(62,62),(70,50),(90,30),(98,12),(118,-15),(138,-42),(140,-58),(150,-70),(150,-85),(155,-95),(140,-95),(122,-85),(108,-72),(90,-62),(70,-60),(50,-58),(30,-50),(5,-42),(-20,-40),(-45,-38),(-65,-28),(-85,-20),(-100,-5)],
    [(-102,-8),(-92,3),(-78,10),(-62,20),(-40,36),(-22,38),(-5,46),(25,48),(40,50),(55,52),(68,35),(85,25),(92,5),(112,-15),(132,-40),(135,-60),(145,-80),(148,-90),(130,-85),(118,-68),(108,-50),(102,-28)],
    [(40,30),(55,25),(65,10),(70,-10),(55,-8),(45,-20),(40,-45),(25,-30),(10,-20),(-5,-28),(5,-5),(20,25)],
    [(62,-15),(78,-22),(90,-30),(100,-38),(115,-25)],
    [(-95,5),(-80,0),(-72,12),(-85,-5),(-72,-20)],
    [(-104,-3),(-95,8),(-82,12),(-68,22),(-50,32),(-30,44)],
    [(-60,30),(-45,40),(-25,46),(-5,52),(12,52),(28,50)],
    [(-92,-15),(-80,-22),(-65,-26)],
    [(112,0),(125,-18),(142,-48),(150,-62),(152,-80)],
    [(-15,20),(-5,-5),(15,10),(-25,-20),(-10,-35)],
]
DIA_TOGA_TA = [(63,66),(65,-15),(45,-20),(85,-55),(65,-75),(-25,5),(30,10),(145,-75),(-85,8)]

# ---- pixel layout of the original page ----
FIG_W, FIG_H = 2219, 2164
AX_BOXES = [
    [(115, 62, 720, 467), (861, 64, 1465, 469), (1604, 63, 2210, 470)],
    [(115, 602, 720, 1009), (861, 604, 1466, 1011), (1604, 602, 2210, 1010)],
    [(117, 1136, 722, 1544), (859, 1138, 1465, 1546), (1602, 1136, 2208, 1542)],
    [(117, 1673, 722, 2079), (859, 1673, 1465, 2081), (1602, 1671, 2208, 2079)],
]
XLABEL_POS = [
    [(408, 535), (1153, 534), (1899, 531)],
    [(412, 1077), (1159, 1076), (1905, 1073)],
    [(420, 1609), (1127, 1608), (1872, 1604)],
    [(413, 2144), (1119, 2143), (1865, 2140)],
]
YLABEL_POS = [
    [(30, 279), (769, 275), (1516, 272)],
    [(28, 818), (769, 814), (1513, 810)],
    [(28, 1351), (768, 1347), (1513, 1347)],
    [(29, 1896), (768, 1886), (1513, 1886)],
]
TITLE_X = [120, 865, 1609]

GRAY_SETS = {
    ("KWAJ", "NWP"): (GRAY_KWAJ_NWP, DIA_KWAJ_NWP), ("KAMP", "NWP"): (GRAY_KAMP_NWP, DIA_KAMP_NWP), ("TOGA", "NWP"): (GRAY_TOGA_NWP, DIA_TOGA_NWP),
    ("KWAJ", "SWP"): (GRAY_KWAJ_SWP, DIA_KWAJ_SWP), ("KAMP", "SWP"): (GRAY_KAMP_SWP, DIA_KAMP_SWP), ("TOGA", "SWP"): (GRAY_TOGA_SWP, DIA_TOGA_SWP),
    ("KWAJ", "EP"): (GRAY_KWAJ_EP, DIA_KWAJ_EP), ("KAMP", "EP"): (GRAY_KAMP_EP, DIA_KAMP_EP), ("TOGA", "EP"): (GRAY_TOGA_EP, DIA_TOGA_EP),
    ("KWAJ", "TA"): (GRAY_KWAJ_TA, DIA_KWAJ_TA), ("KAMP", "TA"): (GRAY_KAMP_TA, DIA_KAMP_TA), ("TOGA", "TA"): (GRAY_TOGA_TA, DIA_TOGA_TA),
}
DOTTED = {"KWAJ": (DOTTED_KWAJ, DOTS_KWAJ), "KAMP": (DOTTED_KAMP, DOTS_KAMP), "TOGA": (DOTTED_TOGA, DOTS_TOGA)}
MODEL = {"NWP": (THICK_NWP, EXTRA_NWP, THIN_NWP), "SWP": (THICK_SWP, EXTRA_SWP, THIN_SWP),
         "EP": (THICK_EP, EXTRA_EP, THIN_EP), "TA": (THICK_TA, EXTRA_TA, THIN_TA)}

GRAY = "#a6a8ab"
INK = "#151515"

sns.set_theme(style="ticks")
plt.rcParams["font.family"] = ["Liberation Serif", "DejaVu Serif"]
plt.rcParams["axes.unicode_minus"] = False


def draw(ax, pts, **kw):
    sns.lineplot(x=[p[0] for p in pts], y=[p[1] for p in pts], sort=False, estimator=None,
                 legend=False, ax=ax, **kw)


def panel(ax, station, region):
    gray_lines, diamonds = GRAY_SETS[(station, region)]
    dotted, dots = DOTTED[station]
    thick, extra, thin = MODEL[region]

    # gray first, the outer ring heavier than the rest
    for i, line in enumerate(gray_lines):
        draw(ax, line, color=GRAY, linewidth=3.2 if i == 0 else 2.1)
    sns.scatterplot(x=[p[0] for p in diamonds], y=[p[1] for p in diamonds], marker="D", s=70,
                    facecolor="none", edgecolor=GRAY, linewidth=2.0, legend=False, ax=ax)

    ax.axvline(0, color="#333333", linewidth=0.8)
    ax.axhline(0, color="#333333", linewidth=0.8)

    for line in thin:
        draw(ax, line, color="black", linewidth=1.0)

    draw(ax, dotted, color="black", linewidth=4.3, linestyle=(0, (1, 2)))
    sns.scatterplot(x=[p[0] for p in dots], y=[p[1] for p in dots], marker="D", s=28, color="black",
                    linewidth=0, legend=False, ax=ax)

    draw(ax, thick, color="black", linewidth=3.1)
    for line in extra:
        draw(ax, line, color="black", linewidth=3.1)

    ax.set_xlim(-140, 220)
    ax.set_ylim(-150, 120)
    ax.set_xticks(X_TICKS)
    ax.set_yticks(Y_TICKS)
    ax.xaxis.set_minor_locator(MultipleLocator(20))
    ax.yaxis.set_minor_locator(MultipleLocator(10))
    ax.tick_params(axis="x", which="major", direction="in", top=True, length=6.5, width=0.9, labelsize=23.5, pad=10, colors=INK)
    ax.tick_params(axis="x", which="minor", direction="in", top=True, length=3.5, width=0.9)
    ax.tick_params(axis="y", which="major", direction="in", right=True, length=9.5, width=0.9, labelsize=23.5, pad=7, colors=INK)
    ax.tick_params(axis="y", which="minor", direction="in", right=True, length=4.7, width=0.9)
    # lowest label sits just above the corner in the original
    ax.get_yticklabels()[0].set_va("bottom")
    for sp in ax.spines.values():
        sp.set_visible(True)
        sp.set_linewidth(1.0)
        sp.set_color("#111111")
    ax.text(0.958, 0.908, region, transform=ax.transAxes, ha="right", va="center", fontsize=36, color=INK)


fig = plt.figure(figsize=(FIG_W / 100, FIG_H / 100), dpi=100, facecolor="white")

for r, region in enumerate(REGIONS):
    for c, station in enumerate(STATIONS):
        x0, y0, x1, y1 = AX_BOXES[r][c]
        ax = fig.add_axes([x0 / FIG_W, 1 - y1 / FIG_H, (x1 - x0) / FIG_W, (y1 - y0) / FIG_H])
        panel(ax, station, region)

        lx, ly = XLABEL_POS[r][c]
        ax.set_xlabel("the first EOF", fontsize=33, va="center", color=INK)
        ax.xaxis.set_label_coords(lx / FIG_W, 1 - ly / FIG_H, transform=fig.transFigure)
        lx, ly = YLABEL_POS[r][c]
        ax.set_ylabel("the second EOF", fontsize=33, va="center", ha="center", color=INK)
        ax.yaxis.set_label_coords(lx / FIG_W, 1 - ly / FIG_H, transform=fig.transFigure)

for c, title in enumerate(TITLES):
    fig.text(TITLE_X[c] / FIG_W, 1 - 44 / FIG_H, title, fontsize=39, color=INK, ha="left", va="baseline")

fig.savefig("out.png", dpi=100, facecolor="white")
